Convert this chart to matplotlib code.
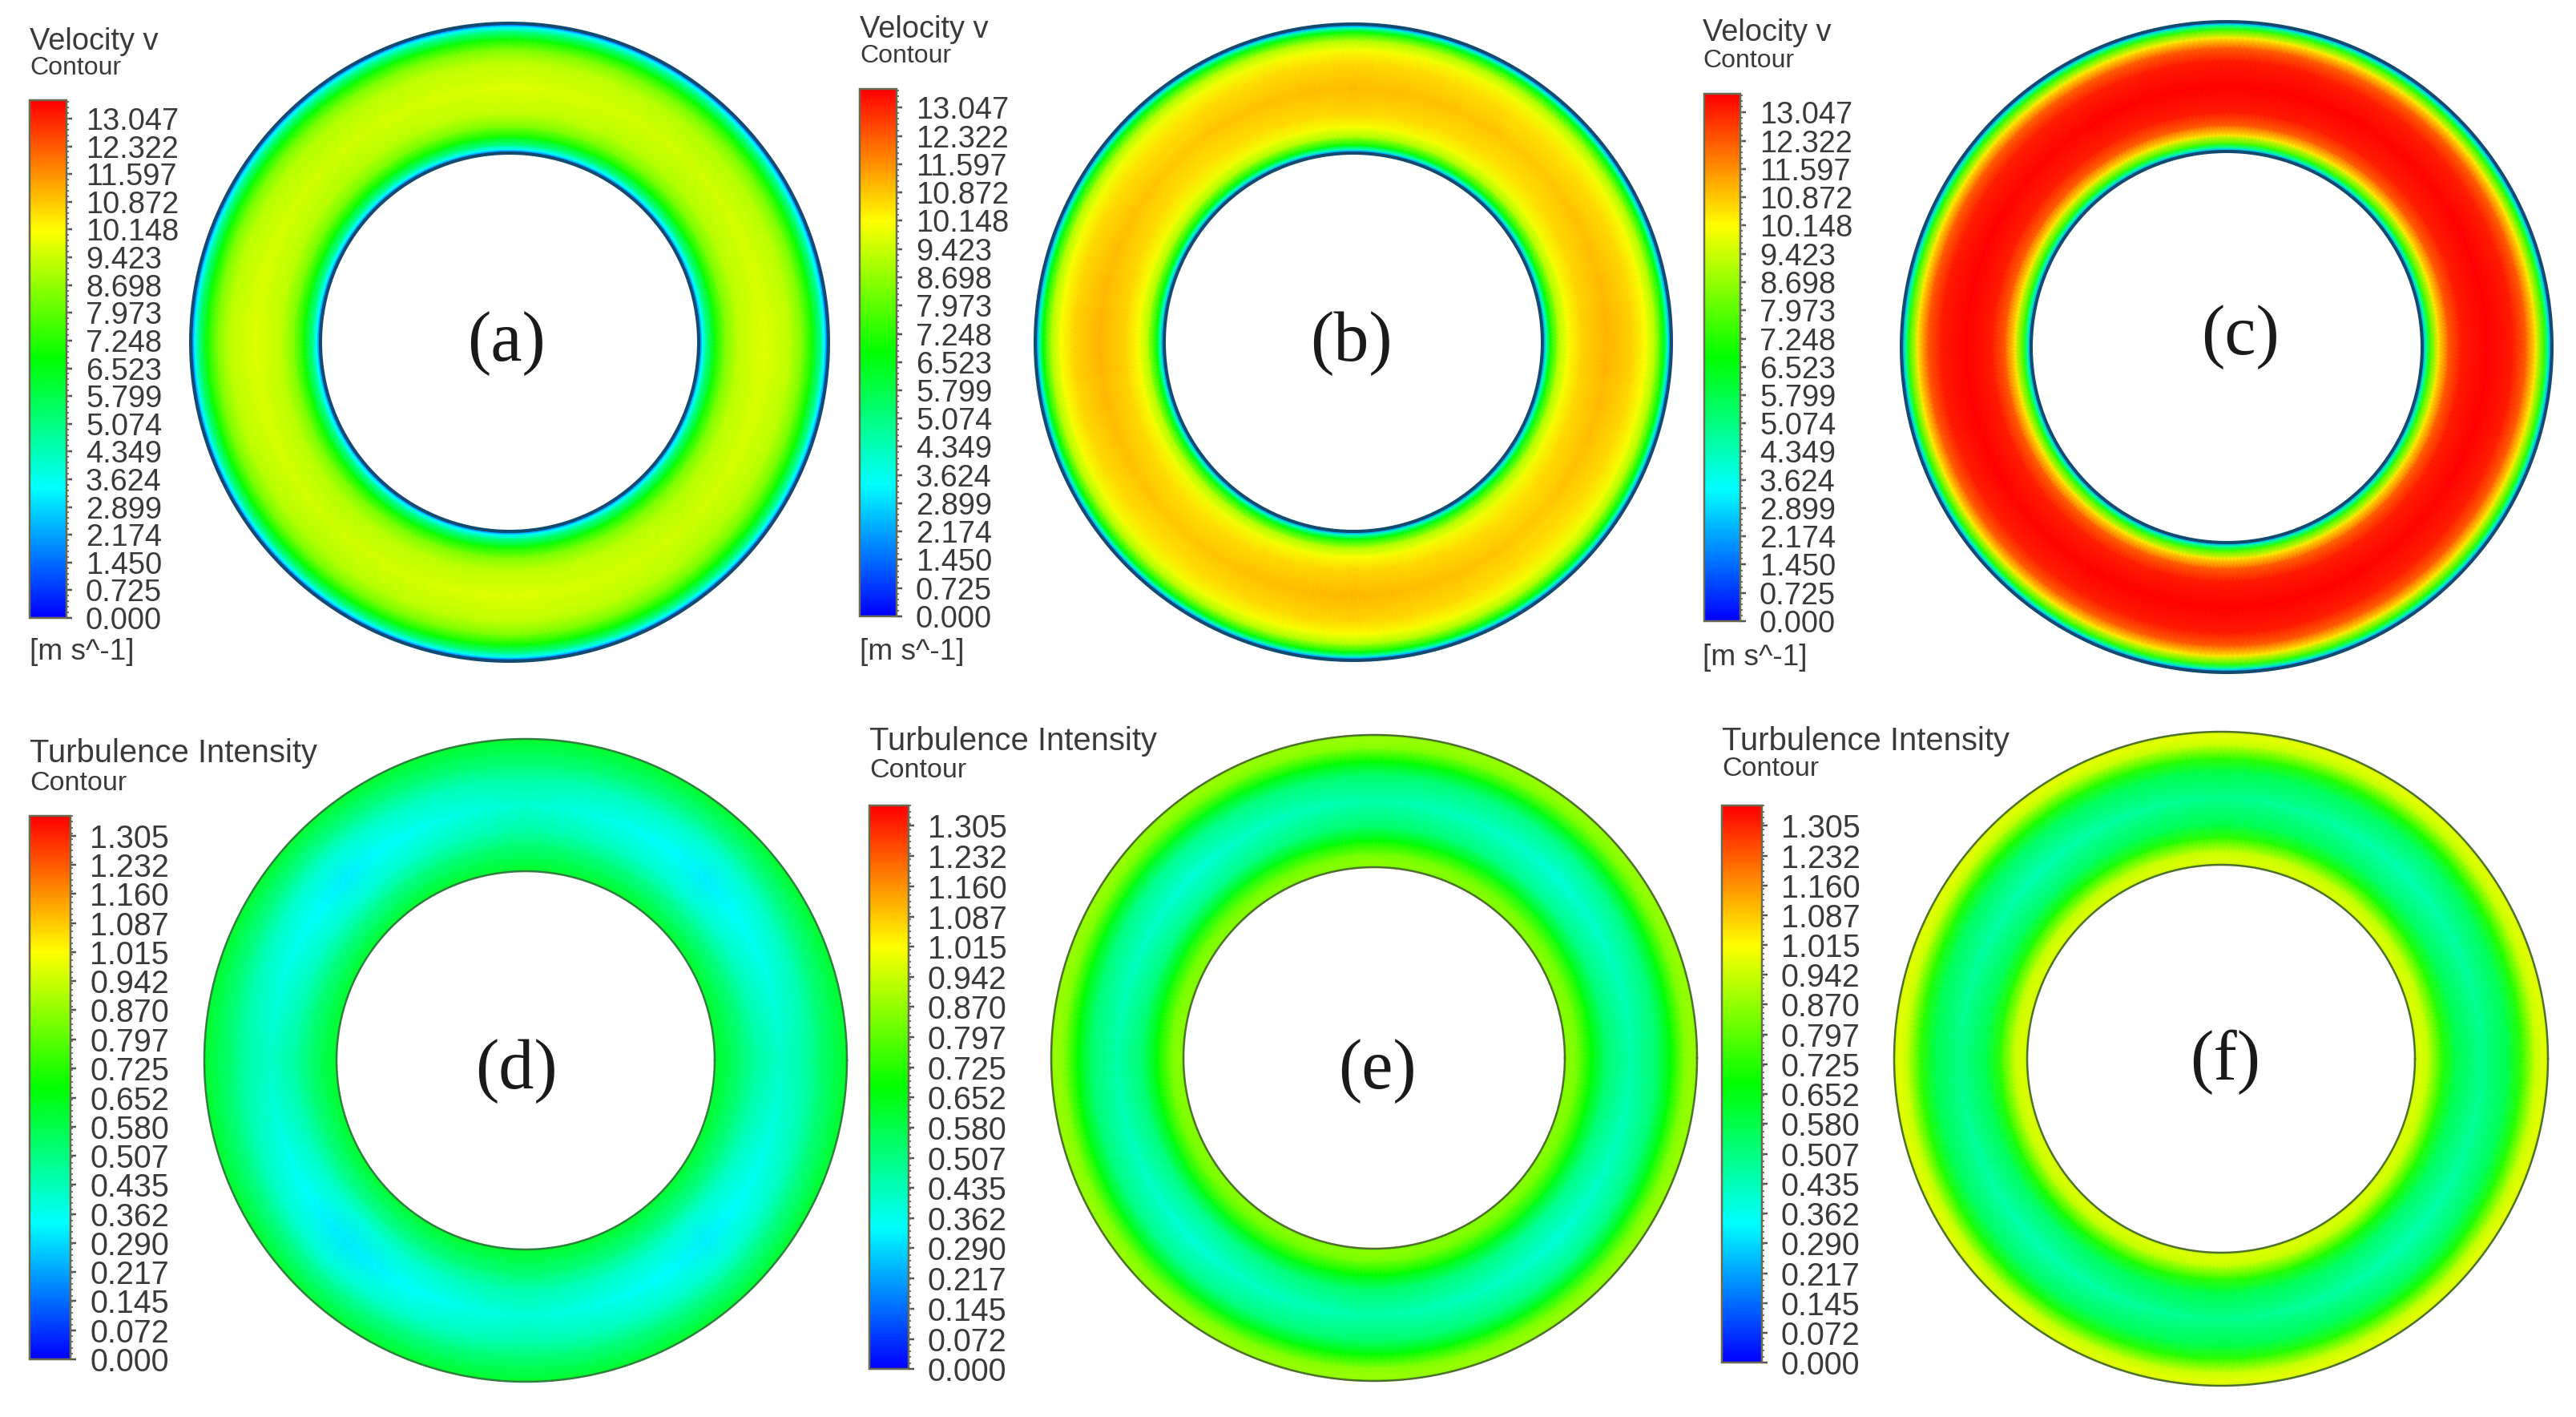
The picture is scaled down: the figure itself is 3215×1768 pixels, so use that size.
# plot.py — annular contour panels: velocity (a-c) and turbulence intensity (d-f)

import numpy as np
import matplotlib
matplotlib.use("Agg")
import matplotlib.pyplot as plt
from matplotlib.cm import ScalarMappable
from matplotlib.colors import LinearSegmentedColormap, Normalize
from matplotlib.ticker import AutoMinorLocator

# ── Data ──────────────────────────────────────────────────────────────────────

VEL_TICKS = [0.000, 0.725, 1.450, 2.174, 2.899, 3.624, 4.349, 5.074, 5.799, 6.523,
             7.248, 7.973, 8.698, 9.423, 10.148, 10.872, 11.597, 12.322, 13.047]
TI_TICKS = [0.000, 0.072, 0.145, 0.217, 0.290, 0.362, 0.435, 0.507, 0.580, 0.652,
            0.725, 0.797, 0.870, 0.942, 1.015, 1.087, 1.160, 1.232, 1.305]
VEL_MAX = 13.53
TI_MAX = 1.354

# radial stations across the ring, 0 = inner wall, 1 = outer wall
VEL_POS = [0.0, 0.012, 0.03, 0.06, 0.125, 0.20, 0.30, 0.50, 0.70, 0.80, 0.875, 0.94, 0.97, 0.988, 1.0]
VEL_A = [0.0, 1.6, 3.4, 4.8, 6.9, 8.3, 9.2, 9.6, 9.2, 8.3, 6.9, 4.8, 3.4, 1.6, 0.0]
VEL_B = [0.0, 2.0, 4.2, 6.6, 9.0, 10.0, 10.6, 11.0, 10.6, 10.0, 9.0, 6.6, 4.2, 2.0, 0.0]
VEL_C = [0.0, 2.2, 4.6, 7.4, 10.4, 12.2, 13.1, 13.5, 13.1, 12.2, 10.4, 7.4, 4.6, 2.2, 0.0]

TI_POS = [0.0, 0.03, 0.10, 0.20, 0.30, 0.50, 0.70, 0.80, 0.90, 0.97, 1.0]
TI_D = [0.62, 0.60, 0.56, 0.50, 0.43, 0.36, 0.43, 0.50, 0.56, 0.60, 0.62]
TI_E = [0.82, 0.86, 0.82, 0.66, 0.52, 0.42, 0.52, 0.66, 0.84, 0.88, 0.85]
TI_F = [0.94, 0.97, 0.93, 0.72, 0.56, 0.46, 0.56, 0.72, 0.93, 0.98, 0.95]

# offset of the mid-ring value every 45 degrees, starting from +x
ANGLES = [0, 45, 90, 135, 180, 225, 270, 315, 360]
SHIFT_A = [0.10, -0.10, 0.10, -0.10, 0.10, -0.10, 0.10, -0.10, 0.10]
SHIFT_B = [0.15, -0.15, 0.05, -0.15, 0.15, -0.15, 0.10, -0.15, 0.15]
SHIFT_C = [0.05, -0.05, 0.05, -0.05, 0.05, -0.05, 0.05, -0.05, 0.05]
SHIFT_D = [0.05, -0.04, 0.04, -0.04, 0.05, -0.05, 0.03, -0.04, 0.05]
SHIFT_E = [0.03, -0.03, 0.03, -0.03, 0.03, -0.03, 0.03, -0.03, 0.03]
SHIFT_F = [0.03, -0.02, 0.03, -0.02, 0.03, -0.02, 0.03, -0.02, 0.03]

# ── Layout (pixels in the 3216x1768 picture) ──────────────────────────────────

W, H = 3216, 1768
DPI = 100
PX = 72 / DPI

RAINBOW = LinearSegmentedColormap.from_list(
    "rainbow5", ["#0000ff", "#00ffff", "#00ff00", "#ffff00", "#ff0000"], N=256)
TEXT_COL = "#3a3a3a"

# label, cx, cy, outer r, inner r, label x, label y, title x, title y, sub y,
# bar x0, bar x1, bar top, bar bottom, units y
PANELS = [
    ("(a)", 636, 427, 398, 236, 632, 429, 37, 52, 85, 37, 83, 125, 771, 814),
    ("(b)", 1689, 427, 397, 236, 1686, 429, 1073, 37, 70, 1073, 1119, 111, 769, 814),
    ("(c)", 2779, 433, 406, 244, 2796, 421, 2125, 41, 76, 2127, 2172, 117, 775, 820),
    ("(d)", 656, 1323, 401, 236, 644, 1337, 37, 940, 977, 37, 88, 1018, 1696, None),
    ("(e)", 1715, 1320, 403, 238, 1719, 1337, 1085, 925, 962, 1085, 1134, 1005, 1708, None),
    ("(f)", 2772, 1321, 408, 242, 2777, 1325, 2149, 925, 960, 2149, 2199, 1005, 1700, None),
]

# ── Plotting helpers ──────────────────────────────────────────────────────────

def fig_x(x):
    return x / W

def fig_y(y):
    return 1 - y / H

def draw_ring(fig, cx, cy, r_out, r_in, pos, values, shift, vmax, wall_col, wall_px):
    pad = 1.02
    size = r_out * pad
    ax = fig.add_axes([fig_x(cx - size), fig_y(cy + size), 2 * size / W, 2 * size / H],
                      projection="polar")
    theta = np.radians(np.arange(0, 361, 1.0))
    radii = r_in + np.asarray(pos) * (r_out - r_in)
    profile = np.asarray(values, dtype=float)
    # the angular offset only acts in the core of the ring, not at the walls
    core = np.sin(np.pi * np.asarray(pos))
    offset = np.interp(np.degrees(theta), ANGLES, shift)
    field = profile[:, None] + core[:, None] * offset[None, :]
    ax.pcolormesh(theta, radii, field, cmap=RAINBOW, vmin=0, vmax=vmax, shading="gouraud")
    for r in (r_in, r_out):
        ax.plot(theta, np.full_like(theta, r), color=wall_col, lw=wall_px * PX)
    ax.set_ylim(0, size)
    ax.axis("off")
    ax.patch.set_alpha(0)
    return ax

def draw_bar(fig, x0, x1, top, bottom, ticks, vmax, label_x, label_px, fmt="%.3f"):
    cax = fig.add_axes([fig_x(x0), fig_y(bottom), (x1 - x0) / W, (bottom - top) / H])
    sm = ScalarMappable(norm=Normalize(0, vmax), cmap=RAINBOW)
    cb = fig.colorbar(sm, cax=cax, ticks=ticks)
    cb.ax.set_yticklabels([fmt % t for t in ticks], fontsize=label_px * PX, color=TEXT_COL)
    cb.ax.yaxis.set_minor_locator(AutoMinorLocator(5))
    cb.ax.tick_params(which="major", length=7 * PX, width=2.5 * PX, color="#555555",
                      pad=(label_x - x1 - 7) * PX)
    cb.ax.tick_params(which="minor", length=3 * PX, width=2 * PX, color="#777777")
    cb.outline.set_edgecolor("#6a6a50")
    cb.outline.set_linewidth(2.5 * PX)
    return cb

def put_text(fig, x, y, s, px, family="Liberation Sans", ha="left", color=TEXT_COL):
    fig.text(fig_x(x), fig_y(y), s, fontsize=px * PX, family=family, ha=ha, va="center",
             color=color)

# ── Figure ────────────────────────────────────────────────────────────────────

plt.rcParams["font.family"] = ["Liberation Sans", "DejaVu Sans"]
fig = plt.figure(figsize=(W / DPI, H / DPI), dpi=DPI, facecolor="white")

series = [
    (VEL_POS, VEL_A, SHIFT_A), (VEL_POS, VEL_B, SHIFT_B), (VEL_POS, VEL_C, SHIFT_C),
    (TI_POS, TI_D, SHIFT_D), (TI_POS, TI_E, SHIFT_E), (TI_POS, TI_F, SHIFT_F),
]

for i, (panel, (pos, vals, shift)) in enumerate(zip(PANELS, series)):
    label, cx, cy, r_out, r_in, lx, ly, tx, ty, sy, bx0, bx1, btop, bbot, uy = panel
    velocity = i < 3
    vmax = VEL_MAX if velocity else TI_MAX
    ticks = VEL_TICKS if velocity else TI_TICKS
    wall_col = "#124a70" if velocity else ("#2f7f3f" if i == 3 else "#4f6f2a")
    draw_ring(fig, cx, cy, r_out, r_in, pos, vals, shift, vmax, wall_col,
              4 if velocity else 2.5)
    draw_bar(fig, bx0, bx1, btop, bbot, ticks, vmax,
             bx1 + 24, 38 if velocity else 39.5)
    if velocity:
        put_text(fig, tx, ty, "Velocity v", 38)
        put_text(fig, tx, sy, "Contour", 32)
        put_text(fig, tx, uy, "[m s^-1]", 37)
    else:
        put_text(fig, tx, ty, "Turbulence Intensity", 40)
        put_text(fig, tx, sy, "Contour", 34)
    put_text(fig, lx, ly, label, 88, family="Liberation Serif", ha="center", color="#1a1a1a")

plt.savefig("out.png", dpi=DPI, facecolor="white")
plt.close()
